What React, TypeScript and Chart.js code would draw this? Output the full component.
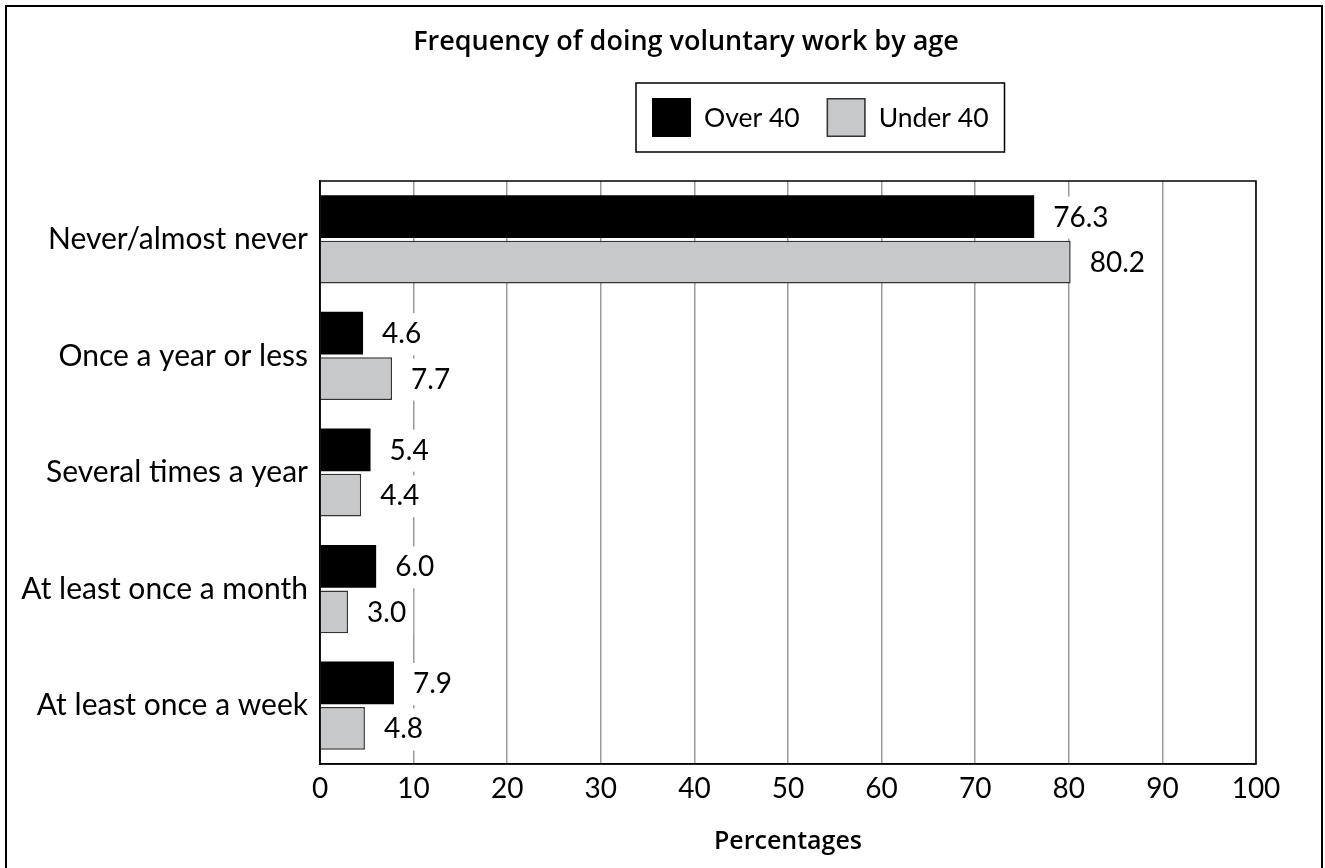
import React, { useEffect, useRef } from "react";
import { Chart, registerables } from "chart.js";

Chart.register(...registerables);

const categories = [
  "Never/almost never",
  "Once a year or less",
  "Several times a year",
  "At least once a month",
  "At least once a week",
];
const over40 = [76.3, 4.6, 5.4, 6.0, 7.9];
const under40 = [80.2, 7.7, 4.4, 3.0, 4.8];
const seriesLabels = ["Over 40", "Under 40"];
const seriesColors = ["#000000", "#c7c8ca"];
const seriesBorders = ["#000000", "#333333"];
const xMin = 0;
const xMax = 100;
const xStep = 10;
const chartTitle = "Frequency of doing voluntary work by age";
const xAxisTitle = "Percentages";

const LIGHT_FAMILY = 'Lato, "Open Sans", sans-serif';
const HEAD_FAMILY = '"Open Sans", Lato, sans-serif';
const LABEL_SIZE = 28;
const CAT_SIZE = 30;
const LEGEND_SIZE = 26.5;
const LABEL_WEIGHT = "400";

const labelPlugin = {
  id: "valueLabels",
  afterDatasetsDraw(chart: any) {
    const ctx = chart.ctx;
    ctx.save();
    ctx.font = `${LABEL_WEIGHT} ${LABEL_SIZE}px ${LIGHT_FAMILY}`;
    ctx.textAlign = "left";
    ctx.textBaseline = "middle";
    chart.data.datasets.forEach((ds: any, i: number) => {
      const meta = chart.getDatasetMeta(i);
      meta.data.forEach((bar: any, j: number) => {
        const v = ds.data[j] as number;
        const text = v.toFixed(1);
        const w = ctx.measureText(text).width;
        const x = bar.x + 19;
        const y = bar.y + 1;
        ctx.fillStyle = "#ffffff";
        ctx.fillRect(x - 7, y - 21, w + 14, 42);
        ctx.fillStyle = "#000000";
        ctx.fillText(text, x, y);
      });
    });
    ctx.restore();
  },
};

const decorPlugin = {
  id: "decor",
  afterDraw(chart: any) {
    const ctx = chart.ctx;
    const a = chart.chartArea;
    ctx.save();
    // plot frame
    ctx.strokeStyle = "#000000";
    ctx.lineWidth = 1.5;
    ctx.strokeRect(a.left, a.top, a.right - a.left, a.bottom - a.top);

    // title
    ctx.fillStyle = "#000000";
    ctx.font = `600 27px ${HEAD_FAMILY}`;
    ctx.textAlign = "center";
    ctx.textBaseline = "alphabetic";
    ctx.fillText(chartTitle, 679, 43);

    // legend
    ctx.font = `${LABEL_WEIGHT} ${LEGEND_SIZE}px ${LIGHT_FAMILY}`;
    ctx.textAlign = "left";
    ctx.textBaseline = "middle";
    const pad = 16;
    const sw = 39;
    const gapText = 13;
    const gapItem = 27;
    const boxTop = 76;
    const boxH = 69;
    const x = 629;
    const widths = chart.data.datasets.map((d: any) => ctx.measureText(d.label).width);
    const total =
      pad * 2 +
      widths.reduce((s: number, w: number) => s + w + sw + gapText, 0) +
      gapItem * (widths.length - 1);
    ctx.lineWidth = 1.5;
    ctx.strokeStyle = "#000000";
    ctx.strokeRect(x, boxTop, total, boxH);
    let cx = x + pad;
    const cy = boxTop + boxH / 2;
    chart.data.datasets.forEach((d: any, i: number) => {
      ctx.fillStyle = d.backgroundColor;
      ctx.fillRect(cx, cy - sw / 2, sw, sw);
      ctx.strokeStyle = d.borderColor;
      ctx.lineWidth = 1.5;
      ctx.strokeRect(cx + 0.75, cy - sw / 2 + 0.75, sw - 1.5, sw - 1.5);
      ctx.fillStyle = "#000000";
      ctx.fillText(d.label, cx + sw + gapText, cy + 1);
      cx += sw + gapText + widths[i] + gapItem;
    });
    ctx.restore();
  },
};

export default function App() {
  const ref = useRef<HTMLCanvasElement | null>(null);

  useEffect(() => {
    if (!ref.current) return;
    const tickFont = { family: LIGHT_FAMILY, size: LABEL_SIZE, weight: LABEL_WEIGHT };
    const catFont = { family: LIGHT_FAMILY, size: CAT_SIZE, weight: LABEL_WEIGHT };
    const chart = new Chart(ref.current, {
      type: "bar",
      data: {
        labels: categories,
        datasets: [
          {
            label: seriesLabels[0],
            data: over40,
            backgroundColor: seriesColors[0],
            borderColor: seriesBorders[0],
            borderWidth: 0,
            categoryPercentage: 0.78,
            barPercentage: 0.94,
          },
          {
            label: seriesLabels[1],
            data: under40,
            backgroundColor: seriesColors[1],
            borderColor: seriesBorders[1],
            borderWidth: 1.5,
            categoryPercentage: 0.78,
            barPercentage: 0.94,
          },
        ],
      },
      options: {
        indexAxis: "y",
        animation: false,
        responsive: false,
        maintainAspectRatio: false,
        events: [],
        layout: { padding: { top: 174, right: 65, left: 0, bottom: 0 } },
        plugins: {
          legend: { display: false },
          title: { display: false },
          tooltip: { enabled: false },
        },
        scales: {
          x: {
            type: "linear",
            min: xMin,
            max: xMax,
            ticks: { stepSize: xStep, color: "#000000", font: tickFont as any, padding: 8 },
            grid: { color: "#9a9a9a", lineWidth: 1.5, drawTicks: false },
            border: { color: "#000000", width: 1.5 },
            title: {
              display: true,
              text: xAxisTitle,
              color: "#000000",
              font: { family: HEAD_FAMILY, size: 25, weight: "600" } as any,
              padding: { top: 0, bottom: 11 },
            },
            afterFit(scale: any) {
              scale.height = 104;
            },
          },
          y: {
            type: "category",
            ticks: { color: "#000000", font: catFont as any, padding: 12 },
            grid: { display: false, drawTicks: false },
            border: { color: "#000000", width: 1.5 },
            afterFit(scale: any) {
              scale.width = 313;
            },
          },
        },
      },
      plugins: [labelPlugin, decorPlugin],
    } as any);
    return () => chart.destroy();
  }, []);

  return (
    <div
      style={{
        position: "absolute",
        left: 5,
        top: 5,
        width: 1318,
        height: 863,
        boxSizing: "border-box",
        borderTop: "2px solid #000",
        borderLeft: "2px solid #000",
        borderRight: "2px solid #000",
        background: "#fff",
        overflow: "hidden",
      }}
    >
      <canvas ref={ref} width={1314} height={861} style={{ display: "block" }} />
    </div>
  );
}
